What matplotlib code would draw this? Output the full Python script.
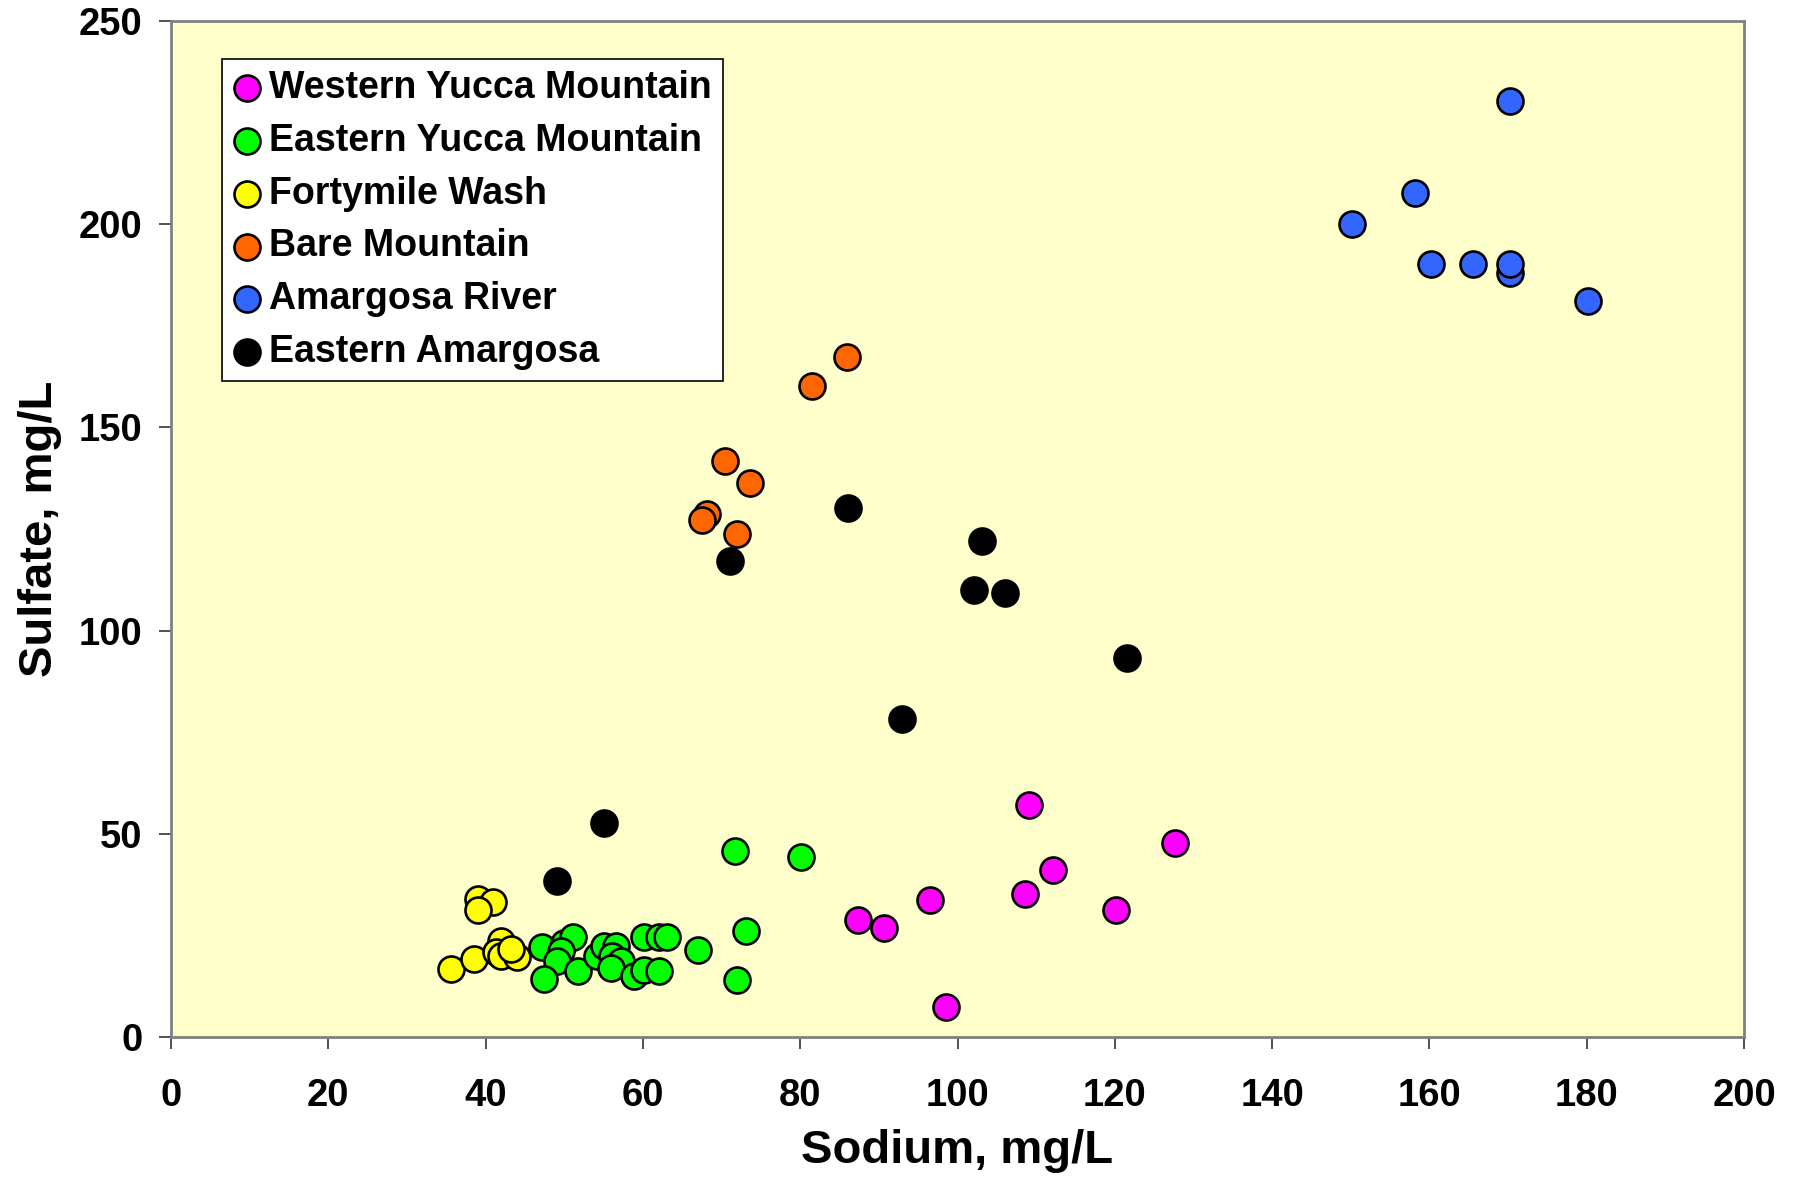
import numpy as np
import matplotlib
matplotlib.use("Agg")
import matplotlib.pyplot as plt

plt.rcParams["font.family"] = ["Liberation Sans", "DejaVu Sans"]
plt.rcParams["font.weight"] = "bold"

# Western Yucca Mountain
wym_na = [109.1, 127.6, 112.1, 108.6, 96.5, 120.1, 87.4, 90.6, 98.6]
wym_so4 = [57.2, 47.7, 41.2, 35.2, 33.7, 31.2, 28.9, 26.8, 7.4]

# Eastern Yucca Mountain
eym_na = [47.2, 50.0, 51.1, 49.6, 49.1, 47.4, 51.7, 54.2, 55.1, 56.6, 56.1, 57.2,
          55.9, 58.9, 60.1, 62.1, 60.1, 62.1, 63.1, 67.0, 73.1, 72.0, 71.7, 80.1]
eym_so4 = [22.2, 23.2, 24.7, 21.2, 18.7, 14.2, 16.2, 19.9, 22.4, 22.4, 19.9, 18.7,
           17.1, 15.0, 16.5, 16.2, 24.5, 24.5, 24.5, 21.3, 26.2, 14.0, 45.8, 44.2]

# Fortymile Wash
fmw_na = [39.0, 41.0, 39.0, 41.9, 35.6, 38.5, 41.3, 41.9, 44.0, 43.2]
fmw_so4 = [33.9, 33.3, 31.2, 23.6, 16.7, 19.3, 20.8, 19.9, 19.8, 21.6]

# Bare Mountain
bm_na = [70.5, 73.6, 68.1, 67.5, 72.0, 81.5, 86.0]
bm_so4 = [141.7, 136.2, 128.6, 127.2, 123.7, 160.2, 167.2]

# Amargosa River
ar_na = [170.2, 158.2, 150.2, 160.2, 165.6, 170.2, 170.2, 180.2]
ar_so4 = [230.2, 207.7, 200.1, 190.1, 190.1, 188.1, 190.1, 181.1]

# Eastern Amargosa
ea_na = [71.1, 86.1, 103.1, 102.1, 106.1, 121.5, 93.0, 55.0, 49.1]
ea_so4 = [117.1, 130.2, 122.1, 110.1, 109.2, 93.2, 78.3, 52.6, 38.3]

groups = [
    ("Western Yucca Mountain", wym_na, wym_so4, "#FF00FF"),
    ("Eastern Yucca Mountain", eym_na, eym_so4, "#00FF00"),
    ("Fortymile Wash", fmw_na, fmw_so4, "#FFFF00"),
    ("Bare Mountain", bm_na, bm_so4, "#FF6600"),
    ("Amargosa River", ar_na, ar_so4, "#3366FF"),
    ("Eastern Amargosa", ea_na, ea_so4, "#000000"),
]

fig = plt.figure(figsize=(17.94, 11.78), dpi=100)
ax = fig.add_axes([171 / 1794, 1 - 1037 / 1178, 1573 / 1794, 1016 / 1178])
ax.set_facecolor("#FFFFCC")

for name, xs, ys, col in groups:
    ax.scatter(xs, ys, s=350, c=col, edgecolors="black", linewidths=1.9,
               label=name, zorder=3)

ax.set_xlim(0, 200)
ax.set_ylim(0, 250)
ax.set_xticks(np.arange(0, 201, 20))
ax.set_yticks(np.arange(0, 251, 50))
ax.tick_params(axis="both", direction="out", length=8.5, width=1.2,
               color="#333333", labelsize=27.5)
ax.tick_params(axis="x", pad=21)
ax.tick_params(axis="y", pad=12)
for sp in ax.spines.values():
    sp.set_color("#808080")
    sp.set_linewidth(2)

ax.set_xlabel("Sodium, mg/L", fontsize=34, fontweight="bold", labelpad=11)
ax.set_ylabel("Sulfate, mg/L", fontsize=34, fontweight="bold", labelpad=12)

leg = ax.legend(loc="upper left", bbox_to_anchor=(0.0326, 0.963),
                borderaxespad=0, fontsize=27, markerscale=1.0,
                handletextpad=0.24, labelspacing=0.45, borderpad=0.3,
                handlelength=0.7, fancybox=False, framealpha=1,
                edgecolor="black")
leg.get_frame().set_linewidth(1.2)

fig.savefig("out.png", dpi=100)
